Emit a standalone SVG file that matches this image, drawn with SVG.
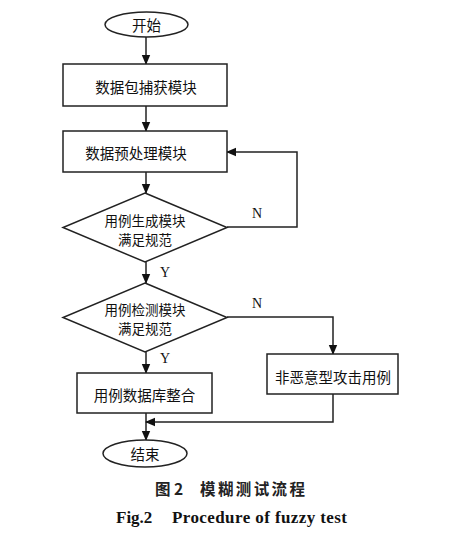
<svg xmlns="http://www.w3.org/2000/svg" width="462" height="555" viewBox="0 0 462 555">
<style>
.s{fill:#fff;stroke:#222;stroke-width:1.5}
.t{font-family:"Noto Sans CJK SC","Liberation Serif",serif;font-size:14.5px;fill:#111;text-anchor:middle;dominant-baseline:central}
.d{font-size:13.5px}
.l{font-family:"Liberation Serif",serif;font-size:14px;fill:#111;dominant-baseline:central}
.c{fill:none;stroke:#222;stroke-width:1.5}
</style>
<defs>
<marker id="a" markerWidth="10" markerHeight="10" refX="9" refY="5" orient="auto" markerUnits="userSpaceOnUse">
<path d="M0,0.8 L10,5 L0,9.2 Z" fill="#111"/>
</marker>
</defs>
<rect width="462" height="555" fill="#fff"/>
<g id="connectors">
<line class="c" x1="146" y1="37" x2="146" y2="64" marker-end="url(#a)"/>
<line class="c" x1="146" y1="106" x2="146" y2="131" marker-end="url(#a)"/>
<line class="c" x1="146" y1="172" x2="146" y2="193" marker-end="url(#a)"/>
<polyline class="c" points="227,227 297,227 297,152 227,152" marker-end="url(#a)"/>
<line class="c" x1="146" y1="262" x2="146" y2="283" marker-end="url(#a)"/>
<polyline class="c" points="227,317 333,317 333,354" marker-end="url(#a)"/>
<line class="c" x1="146" y1="352" x2="146" y2="373" marker-end="url(#a)"/>
<line class="c" x1="146" y1="413" x2="146" y2="440" marker-end="url(#a)"/>
<polyline class="c" points="333,394 333,422 146,422" marker-end="url(#a)"/>
<text class="l" x="252" y="213">N</text>
<text class="l" x="160" y="272">Y</text>
<text class="l" x="252" y="303">N</text>
<text class="l" x="160" y="358">Y</text>
</g>
<g id="start">
<ellipse class="s" cx="146.5" cy="24.5" rx="41.5" ry="12.5"/>
<text class="t" x="146.5" y="24.5">开始</text>
</g>
<g id="capture">
<rect class="s" x="63" y="64" width="164" height="42"/>
<text class="t" x="146" y="86">数据包捕获模块</text>
</g>
<g id="preprocess">
<rect class="s" x="63" y="131" width="164" height="41"/>
<text class="t" x="136" y="152">数据预处理模块</text>
</g>
<g id="gen">
<polygon class="s" points="145,193 227,227.5 145,262 63,227.5"/>
<text class="t d" x="145" y="220">用例生成模块</text>
<text class="t d" x="145" y="239">满足规范</text>
</g>
<g id="check">
<polygon class="s" points="145,283 227,317.5 145,352 63,317.5"/>
<text class="t d" x="145" y="309">用例检测模块</text>
<text class="t d" x="145" y="328">满足规范</text>
</g>
<g id="nonmal">
<rect class="s" x="267" y="354" width="131" height="40"/>
<text class="t" x="333" y="376">非恶意型攻击用例</text>
</g>
<g id="db">
<rect class="s" x="77" y="373" width="135" height="40"/>
<text class="t" x="144.5" y="394">用例数据库整合</text>
</g>
<g id="end">
<ellipse class="s" cx="145" cy="453.5" rx="42" ry="13.5"/>
<text class="t" x="145" y="453.5">结束</text>
</g>
<g id="caption">
<text x="155" y="488" style="font-family:'Noto Sans CJK SC',sans-serif;font-size:15.5px;font-weight:bold;fill:#222;dominant-baseline:central">图 2</text>
<text x="200" y="488" textLength="105" style="font-family:'Noto Sans CJK SC',sans-serif;font-size:15.5px;font-weight:bold;fill:#222;dominant-baseline:central">模糊测试流程</text>
<text x="116" y="517" style="font-family:'Liberation Serif',serif;font-size:17px;font-weight:bold;fill:#111;dominant-baseline:central">Fig.2</text>
<text x="172" y="517" textLength="175" style="font-family:'Liberation Serif',serif;font-size:17px;font-weight:bold;fill:#111;dominant-baseline:central">Procedure of fuzzy test</text>
</g>
</svg>
